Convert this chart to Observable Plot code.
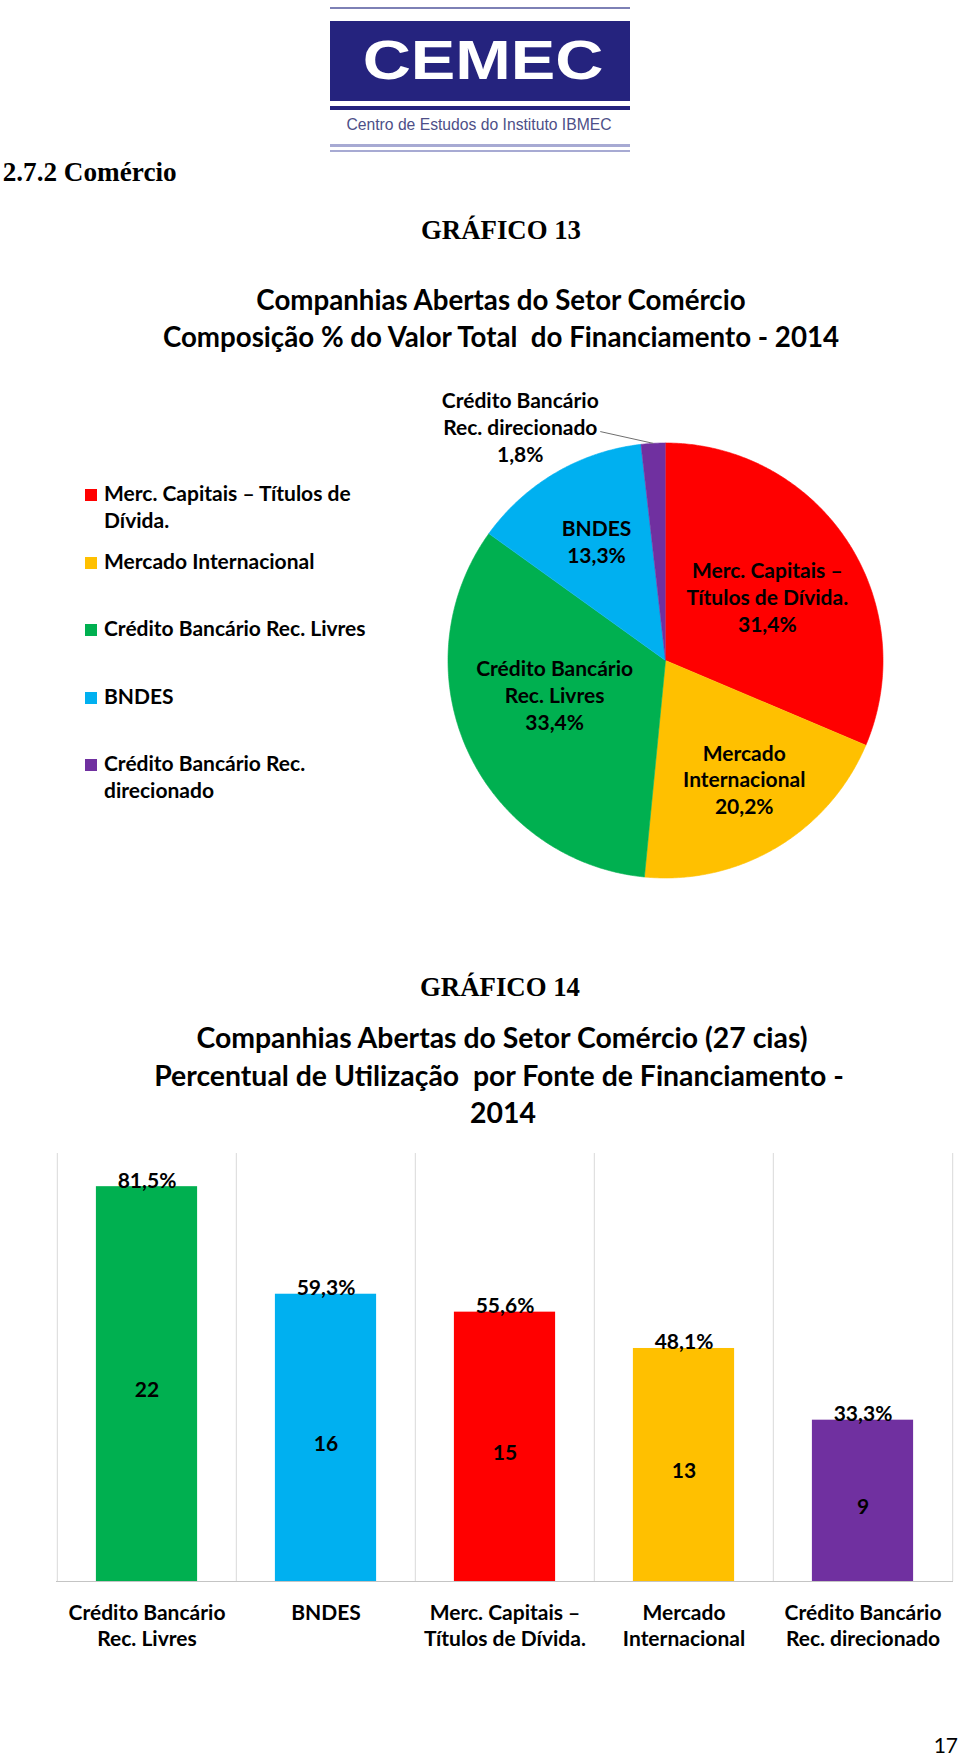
<!DOCTYPE html>
<html>
<head>
<meta charset="utf-8">
<script src="https://cdn.jsdelivr.net/npm/d3@7"></script>
<script src="https://cdn.jsdelivr.net/npm/@observablehq/plot@0.6"></script>
<style>
  html, body { margin: 0; padding: 0; background: #fff; overflow: hidden; }
  #page { position: relative; width: 960px; height: 1756px; background: #fff; color: #000; overflow: hidden; }
  #page svg { position: absolute; left: 0; overflow: visible; }
</style>
</head>
<body>
<div id="page"></div>
<script>
// ---------------- DATA ----------------
// Gráfico 13 – composição % do valor total do financiamento (pie, clockwise from 12 o'clock)
const pieCategories = [
  "Merc. Capitais – Títulos de Dívida.",
  "Mercado Internacional",
  "Crédito Bancário Rec. Livres",
  "BNDES",
  "Crédito Bancário Rec. direcionado"
];
const pieShares = [31.4, 20.2, 33.4, 13.3, 1.8];
const pieSliceLabels = [
  "Merc. Capitais –\nTítulos de Dívida.",
  "Mercado\nInternacional",
  "Crédito Bancário\nRec. Livres",
  "BNDES",
  "Crédito Bancário\nRec. direcionado"
];
const legendLabels = [
  "Merc. Capitais – Títulos de\nDívida.",
  "Mercado Internacional",
  "Crédito Bancário Rec. Livres",
  "BNDES",
  "Crédito Bancário Rec.\ndirecionado"
];

// Gráfico 14 – percentual de utilização por fonte (27 cias)
const barCategories = [
  "Crédito Bancário Rec. Livres",
  "BNDES",
  "Merc. Capitais – Títulos de Dívida.",
  "Mercado Internacional",
  "Crédito Bancário Rec. direcionado"
];
const barPercents = [81.5, 59.3, 55.6, 48.1, 33.3];
const barCounts = [22, 16, 15, 13, 9];
const barTickLabels = [
  "Crédito Bancário\nRec. Livres",
  "BNDES",
  "Merc. Capitais –\nTítulos de Dívida.",
  "Mercado\nInternacional",
  "Crédito Bancário\nRec. direcionado"
];

// ---------------- STYLE ----------------
const palette = ["#FF0000", "#FFC000", "#00B050", "#00B0F0", "#7030A0"];
const SANS = "Lato, 'Open Sans', sans-serif";
const SERIF = "'Liberation Serif', 'Times New Roman', serif";
const ARIAL = "'Liberation Sans', Arial, sans-serif";
const M_LATO = [0.987, 0.213], M_SERIF = [0.891, 0.216], M_ARIAL = [0.905, 0.212];
const fmtPct = v => v.toFixed(1).replace(".", ",") + "%";

const page = document.getElementById("page");

function addText(text, {x, baseline, size, family, weight = "bold", metrics, align = "left", color = "#000", lineHeight, scaleX = 1}) {
  const [asc, desc] = metrics;
  const lh = lineHeight ?? size * (asc + desc);
  const div = document.createElement("div");
  div.textContent = text;
  const top = baseline - ((lh - size * (asc + desc)) / 2 + size * asc);
  const shift = align === "center" ? "-50%" : align === "right" ? "-100%" : "0";
  Object.assign(div.style, {
    position: "absolute", whiteSpace: "pre", fontFamily: family, fontWeight: weight,
    fontSize: size + "px", lineHeight: lh + "px", color, top: top + "px", left: x + "px",
    transform: `translateX(${shift}) scaleX(${scaleX})`,
    transformOrigin: align === "center" ? "50% 50%" : align === "right" ? "100% 50%" : "0 50%"
  });
  page.appendChild(div);
  return div;
}
function addBox(left, top, width, height, bg) {
  const d = document.createElement("div");
  Object.assign(d.style, {position: "absolute", left: left + "px", top: top + "px", width: width + "px", height: height + "px", background: bg});
  page.appendChild(d);
  return d;
}

// ---------------- LOGO ----------------
const navy = "#25237e";
addBox(330, 6.5, 300, 2, "#7d80b5");
addBox(330, 21, 300, 80, navy);
addText("CEMEC", {x: 483, baseline: 79.5, size: 56, family: ARIAL, metrics: M_ARIAL, align: "center", color: "#fff", scaleX: 1.19});
addBox(330, 106, 300, 4, navy);
addText("Centro de Estudos do Instituto IBMEC", {x: 479, baseline: 130.5, size: 15.7, family: ARIAL, weight: "normal", metrics: M_ARIAL, align: "center", color: "#4d4f88"});
addBox(330, 144, 300, 2.5, "#a7aad3");
addBox(330, 149.5, 300, 2.5, "#a7aad3");

// ---------------- HEADINGS ----------------
addText("2.7.2 Comércio", {x: 2.7, baseline: 181.7, size: 27.2, family: SERIF, metrics: M_SERIF});
addText("GRÁFICO 13", {x: 501, baseline: 240, size: 26.8, family: SERIF, metrics: M_SERIF, align: "center"});
addText("Companhias Abertas do Setor Comércio", {x: 501, baseline: 310, size: 27.7, family: SANS, metrics: M_LATO, align: "center"});
addText("Composição % do Valor Total  do Financiamento - 2014", {x: 501, baseline: 347, size: 27.7, family: SANS, metrics: M_LATO, align: "center"});

addText("GRÁFICO 14", {x: 500, baseline: 996.7, size: 26.8, family: SERIF, metrics: M_SERIF, align: "center"});
addText("Companhias Abertas do Setor Comércio (27 cias)", {x: 502, baseline: 1048, size: 28.4, family: SANS, metrics: M_LATO, align: "center"});
addText("Percentual de Utilização  por Fonte de Financiamento -", {x: 499, baseline: 1086, size: 28.4, family: SANS, metrics: M_LATO, align: "center"});
addText("2014", {x: 503, baseline: 1123, size: 28.4, family: SANS, metrics: M_LATO, align: "center"});

addText("17", {x: 958, baseline: 1753, size: 21, family: SANS, weight: "normal", metrics: M_LATO, align: "right"});

// ---------------- PIE (Plot) ----------------
const R = 217.5, pieCx = 665, pieCy = 660, pieTop = 360, pieH = 540;
const pieData = pieCategories.map((c, i) => ({key: c, share: pieShares[i], label: pieSliceLabels[i]}));
const arcs = d3.pie().sort(null).value(d => d.share)(pieData);

const slicePts = [];
for (const a of arcs) {
  const n = Math.max(2, Math.ceil((a.endAngle - a.startAngle) / (Math.PI / 360)));
  slicePts.push({key: a.data.key, x: 0, y: 0});
  for (let k = 0; k <= n; ++k) {
    const t = a.startAngle + (a.endAngle - a.startAngle) * k / n;
    slicePts.push({key: a.data.key, x: Math.sin(t), y: Math.cos(t)});
  }
}

// label layout (pixel nudges relative to the 0.6-radius centroid)
const labelNudge = [[-7, 8], [12, 6], [8, -20], [-3, -7]];
const insideLabels = [], outsideLabels = [], leaders = [];
arcs.forEach((a, i) => {
  const mid = (a.startAngle + a.endAngle) / 2;
  const text = `${a.data.label}\n${fmtPct(a.data.share)}`;
  if (a.data.share >= 5) {
    const [nx, ny] = labelNudge[i] ?? [0, 0];
    insideLabels.push({x: 0.6 * Math.sin(mid) + nx / R, y: 0.6 * Math.cos(mid) - ny / R, text});
  } else {
    const la = mid - 28.6 * Math.PI / 180, lr = 1.266;
    const lx = lr * Math.sin(la), ly = lr * Math.cos(la);
    outsideLabels.push({x: lx, y: ly, text});
    leaders.push({x1: lx + 80 / R, y1: ly - 5 / R, x2: Math.sin(mid), y2: Math.cos(mid)});
  }
});

const pie = Plot.plot({
  width: 960, height: pieH,
  marginLeft: pieCx - R, marginRight: 960 - pieCx - R,
  marginTop: pieCy - R - pieTop, marginBottom: pieTop + pieH - (pieCy + R),
  x: {domain: [-1, 1], axis: null},
  y: {domain: [-1, 1], axis: null},
  color: {domain: pieCategories, range: palette},
  style: {fontFamily: SANS, fontSize: "21px", fontWeight: "bold", background: "transparent", color: "#000"},
  marks: [
    Plot.line(slicePts, {x: "x", y: "y", z: "key", fill: "key", stroke: "key", strokeWidth: 0.6, curve: "linear"}),
    Plot.text(insideLabels, {x: "x", y: "y", text: "text", fontSize: 21, fontWeight: "bold", fontFamily: SANS, lineHeight: 1.27, fill: "#000"}),
    Plot.link(leaders, {x1: "x1", y1: "y1", x2: "x2", y2: "y2", stroke: "#6f6f6f", strokeWidth: 1}),
    Plot.text(outsideLabels, {x: "x", y: "y", text: "text", fontSize: 21, fontWeight: "bold", fontFamily: SANS, lineHeight: 1.27, fill: "#000"})
  ]
});
pie.style.top = pieTop + "px";
page.appendChild(pie);

// ---------------- LEGEND (HTML) ----------------
pieCategories.forEach((c, i) => {
  const baseline = 501.7 + i * 67.5;
  addBox(85, baseline - 12.5, 12, 12, palette[i]);
  addText(legendLabels[i], {x: 104, baseline, size: 21, family: SANS, metrics: M_LATO, lineHeight: 26.7});
});

// ---------------- BARS (Plot) ----------------
const barTop = 1100, barH = 600, bMl = 56, bMr = 7, bMt = 45, bMb = 119;
const bw = (960 - bMl - bMr) / barCategories.length;
const barInset = (bw - 101.6) / 2;
const barData = barCategories.map((c, i) => ({cat: c, pct: barPercents[i], count: barCounts[i], tick: barTickLabels[i]}));

const bars = Plot.plot({
  width: 960, height: barH,
  marginLeft: bMl, marginRight: bMr, marginTop: bMt, marginBottom: bMb,
  x: {domain: barCategories, padding: 0, axis: null},
  y: {domain: [0, 90], axis: null},
  color: {domain: pieCategories, range: palette},
  style: {fontFamily: SANS, fontSize: "21px", fontWeight: "bold", background: "transparent", color: "#000"},
  marks: [
    Plot.ruleX(barCategories, {x: d => d, dx: -bw / 2, y1: 0, y2: 90, insetBottom: -8, stroke: "#d9d9d9", strokeWidth: 1}),
    Plot.ruleX(barCategories.slice(-1), {x: d => d, dx: bw / 2, y1: 0, y2: 90, insetBottom: -8, stroke: "#d9d9d9", strokeWidth: 1}),
    Plot.barY(barData, {x: "cat", y: "pct", fill: "cat", insetLeft: barInset, insetRight: barInset}),
    Plot.ruleY([0], {stroke: "#c4c4c4", strokeWidth: 1.2}),
    Plot.text(barData, {x: "cat", y: "pct", text: d => fmtPct(d.pct), lineAnchor: "bottom", dy: 1, fontSize: 21, fontWeight: "bold", fontFamily: SANS, fill: "#000"}),
    Plot.text(barData, {x: "cat", y: d => d.pct / 2, text: "count", dy: 6, fontSize: 21, fontWeight: "bold", fontFamily: SANS, fill: "#000"}),
    Plot.text(barData, {x: "cat", y: 0, text: "tick", lineAnchor: "top", dy: 38 - 0.71 * 1.27 * 21, lineHeight: 1.27, fontSize: 21, fontWeight: "bold", fontFamily: SANS, fill: "#000"})
  ]
});
bars.style.top = barTop + "px";
page.appendChild(bars);
</script>
</body>
</html>
